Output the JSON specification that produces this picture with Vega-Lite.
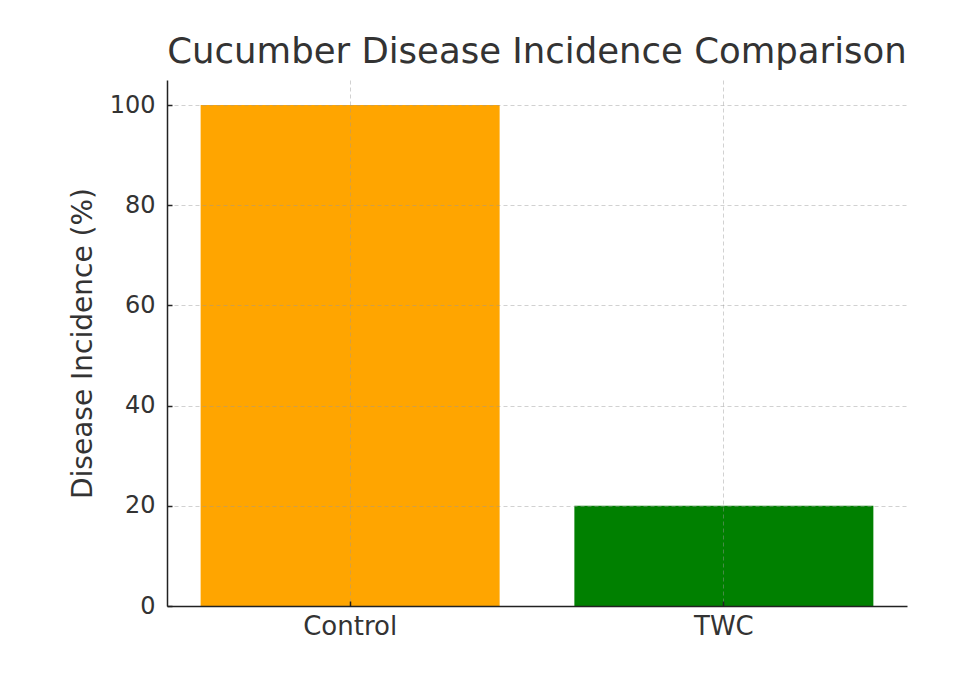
{
  "$schema": "https://vega.github.io/schema/vega-lite/v6.json",
  "autosize": "none",
  "padding": {"left": 167, "top": 80, "right": 47, "bottom": 67},
  "width": 740,
  "height": 526,
  "background": "white",
  "config": {
    "view": {"stroke": null},
    "font": "DejaVu Sans"
  },
  "title": {
    "text": "Cucumber Disease Incidence Comparison",
    "font": "DejaVu Sans",
    "fontSize": 35.5,
    "fontWeight": "normal",
    "color": "#333333",
    "anchor": "middle",
    "baseline": "alphabetic",
    "offset": -18
  },
  "data": {
    "values": [
      {"Group": "Control", "Incidence": 100},
      {"Group": "TWC", "Incidence": 20}
    ]
  },
  "mark": {"type": "bar"},
  "encoding": {
    "x": {
      "field": "Group",
      "type": "nominal",
      "sort": null,
      "scale": {"paddingInner": 0.2, "paddingOuter": 0.09},
      "axis": {
        "title": null,
        "labelAngle": 0,
        "labelFontSize": 26,
        "labelColor": "#333333",
        "labelFont": "DejaVu Sans",
        "tickSize": -5,
        "labelPadding": 12,
        "tickColor": "#222222",
        "tickWidth": 1.5,
        "domainColor": "#222222",
        "domainWidth": 1.5,
        "grid": true,
        "bandPosition": 0.5,
        "gridColor": "#999999",
        "gridOpacity": 0.45,
        "gridDash": [4, 3],
        "gridWidth": 1,
        "zindex": 1
      }
    },
    "y": {
      "field": "Incidence",
      "type": "quantitative",
      "scale": {"domain": [0, 105], "nice": false},
      "axis": {
        "title": "Disease Incidence (%)",
        "titleFont": "DejaVu Sans",
        "titleFontSize": 28,
        "titleFontWeight": "normal",
        "titleColor": "#333333",
        "titlePadding": 12,
        "values": [0, 20, 40, 60, 80, 100],
        "labelFontSize": 24,
        "labelColor": "#333333",
        "labelFont": "DejaVu Sans",
        "tickSize": -5,
        "labelPadding": 17,
        "tickColor": "#222222",
        "tickWidth": 1.5,
        "domainColor": "#222222",
        "domainWidth": 1.5,
        "grid": true,
        "gridColor": "#999999",
        "gridOpacity": 0.45,
        "gridDash": [4, 3],
        "gridWidth": 1,
        "zindex": 1
      }
    },
    "color": {
      "field": "Group",
      "type": "nominal",
      "scale": {"domain": ["Control", "TWC"], "range": ["#FFA500", "#008000"]},
      "legend": null
    }
  }
}
